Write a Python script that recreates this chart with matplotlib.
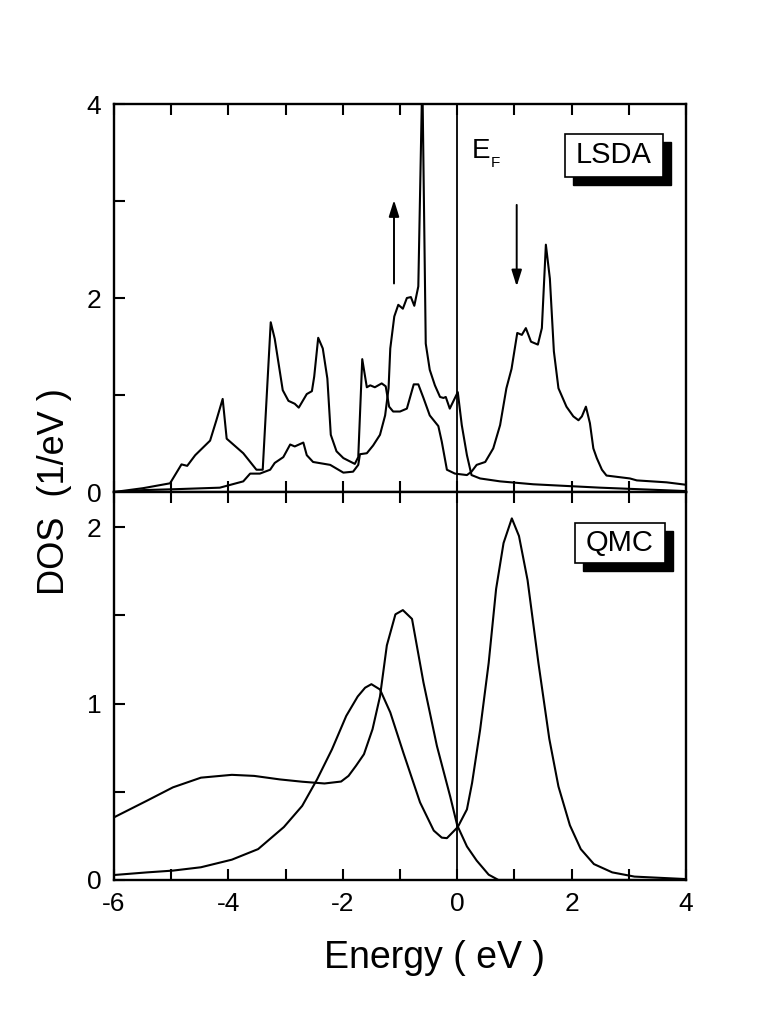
import matplotlib
matplotlib.use('Agg')
import matplotlib.pyplot as plt
from matplotlib.patches import Rectangle

plt.rcParams['font.family'] = ['Liberation Sans', 'DejaVu Sans']
plt.rcParams['axes.unicode_minus'] = False

# LSDA, curve with the big peak below E_F (spin up)
lsda_up_e = [-6.0, -5.49, -4.90, -4.15, -3.74, -3.62, -3.45, -3.27, -3.19, -3.04,
             -2.92, -2.84, -2.69, -2.63, -2.52, -2.22, -1.99, -1.82, -1.73, -1.70,
             -1.58, -1.47, -1.35, -1.26, -1.20, -1.17, -1.10, -1.03, -0.95, -0.88,
             -0.81, -0.75, -0.68, -0.61, -0.55, -0.48, -0.39, -0.30, -0.24, -0.20,
             -0.13, 0.01, 0.08, 0.17, 0.25, 0.40, 0.75, 1.33, 2.50, 4.0]
lsda_up_dos = [0.0, 0.02, 0.03, 0.045, 0.11, 0.19, 0.19, 0.23, 0.30, 0.36,
               0.49, 0.47, 0.51, 0.38, 0.31, 0.28, 0.20, 0.21, 0.28, 0.39,
               0.40, 0.48, 0.59, 0.79, 1.07, 1.48, 1.81, 1.93, 1.89, 2.0,
               2.01, 1.92, 2.12, 4.3, 1.53, 1.26, 1.10, 0.98, 0.97, 0.98,
               0.86, 1.03, 0.69, 0.38, 0.175, 0.14, 0.11, 0.08, 0.045, 0.01]

# LSDA, curve with the peak above E_F (spin down)
lsda_dn_e = [-6.0, -5.49, -5.02, -4.82, -4.72, -4.58, -4.32, -4.21, -4.10, -4.03,
             -3.74, -3.51, -3.40, -3.26, -3.19, -3.05, -2.95, -2.84, -2.77, -2.63,
             -2.54, -2.50, -2.43, -2.35, -2.27, -2.21, -2.11, -1.99, -1.79, -1.73,
             -1.66, -1.58, -1.52, -1.44, -1.32, -1.25, -1.19, -1.12, -1.00, -0.88,
             -0.76, -0.68, -0.59, -0.48, -0.33, -0.27, -0.18, -0.04, 0.17, 0.25,
             0.34, 0.49, 0.63, 0.75, 0.86, 0.95, 1.05, 1.13, 1.20, 1.29,
             1.41, 1.48, 1.55, 1.62, 1.69, 1.77, 1.91, 2.03, 2.12, 2.18,
             2.25, 2.32, 2.38, 2.44, 2.53, 2.61, 3.02, 3.14, 3.66, 4.0]
lsda_dn_dos = [0.0, 0.04, 0.09, 0.285, 0.27, 0.38, 0.53, 0.74, 0.96, 0.55,
               0.40, 0.23, 0.23, 1.75, 1.58, 1.05, 0.94, 0.91, 0.87, 1.01,
               1.04, 1.19, 1.59, 1.48, 1.17, 0.59, 0.42, 0.35, 0.29, 0.36,
               1.37, 1.08, 1.10, 1.08, 1.12, 1.09, 0.88, 0.83, 0.83, 0.86,
               1.11, 1.11, 0.97, 0.79, 0.68, 0.52, 0.23, 0.19, 0.175, 0.21,
               0.28, 0.31, 0.45, 0.69, 1.07, 1.27, 1.64, 1.62, 1.69, 1.55,
               1.52, 1.69, 2.55, 2.20, 1.45, 1.07, 0.88, 0.78, 0.74, 0.78,
               0.88, 0.71, 0.45, 0.35, 0.23, 0.17, 0.14, 0.12, 0.10, 0.075]

# QMC
qmc_up_e = [-6.0, -5.42, -4.97, -4.48, -3.94, -3.55, -3.10, -2.71, -2.32, -2.03,
            -1.90, -1.77, -1.63, -1.48, -1.35, -1.23, -1.08, -0.95, -0.79, -0.59,
            -0.355, -0.12, 0.0, 0.17, 0.34, 0.55, 0.72, 4.0]
qmc_up_dos = [0.355, 0.45, 0.525, 0.58, 0.596, 0.59, 0.57, 0.557, 0.547, 0.558,
              0.59, 0.647, 0.713, 0.855, 1.04, 1.33, 1.506, 1.53, 1.48, 1.12,
              0.76, 0.47, 0.31, 0.19, 0.11, 0.03, 0.0, 0.0]

qmc_dn_e = [-6.0, -5.42, -4.97, -4.48, -3.94, -3.48, -3.03, -2.71, -2.45, -2.19,
            -1.94, -1.74, -1.61, -1.50, -1.35, -1.17, -0.94, -0.65, -0.41, -0.27,
            -0.18, 0.01, 0.17, 0.26, 0.40, 0.55, 0.68, 0.81, 0.955, 1.08,
            1.23, 1.42, 1.61, 1.77, 1.97, 2.16, 2.39, 2.71, 3.10, 4.0]
qmc_dn_dos = [0.028, 0.043, 0.053, 0.072, 0.115, 0.175, 0.30, 0.42, 0.57, 0.74,
              0.93, 1.04, 1.09, 1.11, 1.08, 0.95, 0.72, 0.44, 0.28, 0.24,
              0.237, 0.30, 0.40, 0.55, 0.85, 1.23, 1.65, 1.91, 2.05, 1.95,
              1.70, 1.23, 0.80, 0.53, 0.31, 0.175, 0.09, 0.043, 0.019, 0.005]

xticks = [-6, -4, -2, 0, 2, 4]
xminor = [-5, -3, -1, 1, 3]

fig = plt.figure(figsize=(7.63, 10.35), dpi=100)
ax1 = fig.add_axes([0.1494, 0.5246, 0.7497, 0.3749])
ax2 = fig.add_axes([0.1494, 0.1498, 0.7497, 0.3749])


def style(ax):
    ax.set_xlim(-6, 4)
    ax.set_xticks(xticks)
    ax.set_xticks(xminor, minor=True)
    ax.tick_params(which='both', direction='in', top=True, right=False,
                   length=8, width=1.5, labelsize=19, pad=9)
    for s in ax.spines.values():
        s.set_linewidth(1.7)
    ax.axvline(0, color='k', lw=1.3)


def box(ax, x0, y0, w, h, label):
    dx = 8 / 572
    dy = 8 / 388
    ax.add_patch(Rectangle((x0 + dx, y0 - dy), w, h, transform=ax.transAxes,
                           facecolor='k', edgecolor='k', zorder=5))
    ax.add_patch(Rectangle((x0, y0), w, h, transform=ax.transAxes,
                           facecolor='white', edgecolor='k', lw=1.2, zorder=6))
    ax.text(x0 + w / 2, y0 + h / 2, label, transform=ax.transAxes,
            ha='center', va='center', fontsize=21, zorder=7)


# top panel
ax1.plot(lsda_up_e, lsda_up_dos, color='k', lw=1.5)
ax1.plot(lsda_dn_e, lsda_dn_dos, color='k', lw=1.5)
style(ax1)
ax1.set_ylim(0, 4)
ax1.set_yticks([0, 2, 4])
ax1.set_yticks([1, 3], minor=True)
ax1.set_xticklabels([])
box(ax1, 0.788, 0.812, 0.172, 0.111, 'LSDA')
ax1.text(0.253, 3.443, 'E', fontsize=20)
ax1.text(0.586, 3.35, 'F', fontsize=11)
arrow = dict(arrowstyle='-|>,head_width=0.22,head_length=0.7', color='k',
             lw=1.4, mutation_scale=14, shrinkA=0, shrinkB=0)
ax1.annotate('', xy=(-1.105, 3.01), xytext=(-1.105, 2.15), arrowprops=arrow)
ax1.annotate('', xy=(1.04, 2.12), xytext=(1.04, 2.96), arrowprops=arrow)

# bottom panel
ax2.plot(qmc_up_e, qmc_up_dos, color='k', lw=1.5)
ax2.plot(qmc_dn_e, qmc_dn_dos, color='k', lw=1.5)
style(ax2)
ax2.set_ylim(0, 2.2)
ax2.set_yticks([0, 1, 2])
ax2.set_yticks([0.5, 1.5], minor=True)
box(ax2, 0.806, 0.817, 0.157, 0.103, 'QMC')

fig.text(0.072, 0.5246, 'DOS  (1/eV )', rotation=90, ha='center', va='center', fontsize=26)
fig.text(0.569, 0.0744, 'Energy ( eV )', ha='center', va='center', fontsize=27)

fig.savefig('out.png', dpi=100, facecolor='white')
